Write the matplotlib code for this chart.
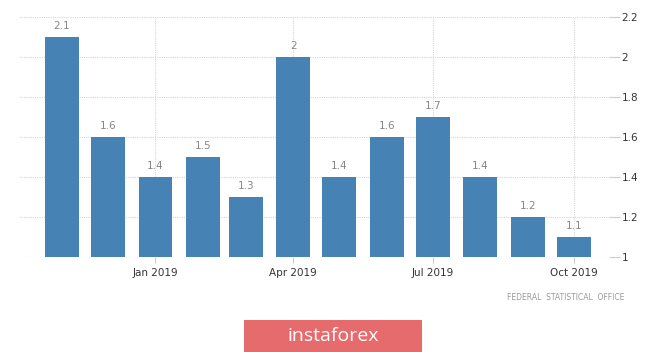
import matplotlib
matplotlib.use("Agg")
import matplotlib.pyplot as plt
import matplotlib.dates as mdates
import numpy as np
from datetime import datetime, timedelta

months = ["2018-11", "2018-12", "2019-01", "2019-02", "2019-03", "2019-04",
          "2019-05", "2019-06", "2019-07", "2019-08", "2019-09", "2019-10"]
values = [2.1, 1.6, 1.4, 1.5, 1.3, 2.0, 1.4, 1.6, 1.7, 1.4, 1.2, 1.1]
value_labels = ["2.1", "1.6", "1.4", "1.5", "1.3", "2", "1.4", "1.6", "1.7", "1.4", "1.2", "1.1"]
tick_months = ["2019-01", "2019-04", "2019-07", "2019-10"]
tick_labels = ["Jan 2019", "Apr 2019", "Jul 2019", "Oct 2019"]
y_ticks = [1, 1.2, 1.4, 1.6, 1.8, 2, 2.2]
y_tick_labels = ["1", "1.2", "1.4", "1.6", "1.8", "2", "2.2"]

plt.rcParams['font.family'] = ['DejaVu Sans']

dates = [datetime.strptime(m, "%Y-%m") for m in months]
tick_dates = [datetime.strptime(m, "%Y-%m") for m in tick_months]

W, H = 665, 352
fig = plt.figure(figsize=(W / 100, H / 100), dpi=100)
ax = fig.add_axes([19 / W, (H - 257) / H, (609 - 19) / W, (257 - 17) / H])

x = mdates.date2num(dates)
ax.bar(x, np.array(values) - 1, bottom=1, width=22, color="#4682b4", zorder=3)

for xi, v, lab in zip(x, values, value_labels):
    ax.text(xi, v + 0.03, lab, ha="center", va="bottom", fontsize=7.5, color="#888888")

ax.set_ylim(1, 2.2)
ax.set_xlim(mdates.date2num(datetime(2018, 10, 4)), mdates.date2num(datetime(2019, 10, 24)))

ax.set_yticks(y_ticks)
ax.set_yticklabels(y_tick_labels)
ax.yaxis.tick_right()
ax.tick_params(axis="y", length=8, width=0.8, color="#cccccc", labelsize=7.5,
               labelcolor="#333333", pad=1)

ax.set_xticks(mdates.date2num(tick_dates))
ax.set_xticklabels(tick_labels)
ax.tick_params(axis="x", length=4, width=0.8, color="#cccccc", labelsize=7.5,
               labelcolor="#333333", pad=4)

ax.grid(True, axis="both", color="#d6d6d6", linestyle=(0, (1, 1)), linewidth=0.8, zorder=0)
for s in ax.spines.values():
    s.set_visible(False)

fig.text(624 / W, 1 - 297 / H, "FEDERAL  STATISTICAL  OFFICE", ha="right", va="center",
         fontsize=5.5, color="#999999")

box = fig.add_axes([244 / W, 0, (422 - 244) / W, (H - 320) / H])
box.set_facecolor("#e56b6d")
box.set_xticks([])
box.set_yticks([])
for s in box.spines.values():
    s.set_visible(False)
box.text(0.5, 0.5, "instaforex", ha="center", va="center", fontsize=14,
         color="white", transform=box.transAxes, family="Open Sans")

fig.savefig("out.png", dpi=100)
